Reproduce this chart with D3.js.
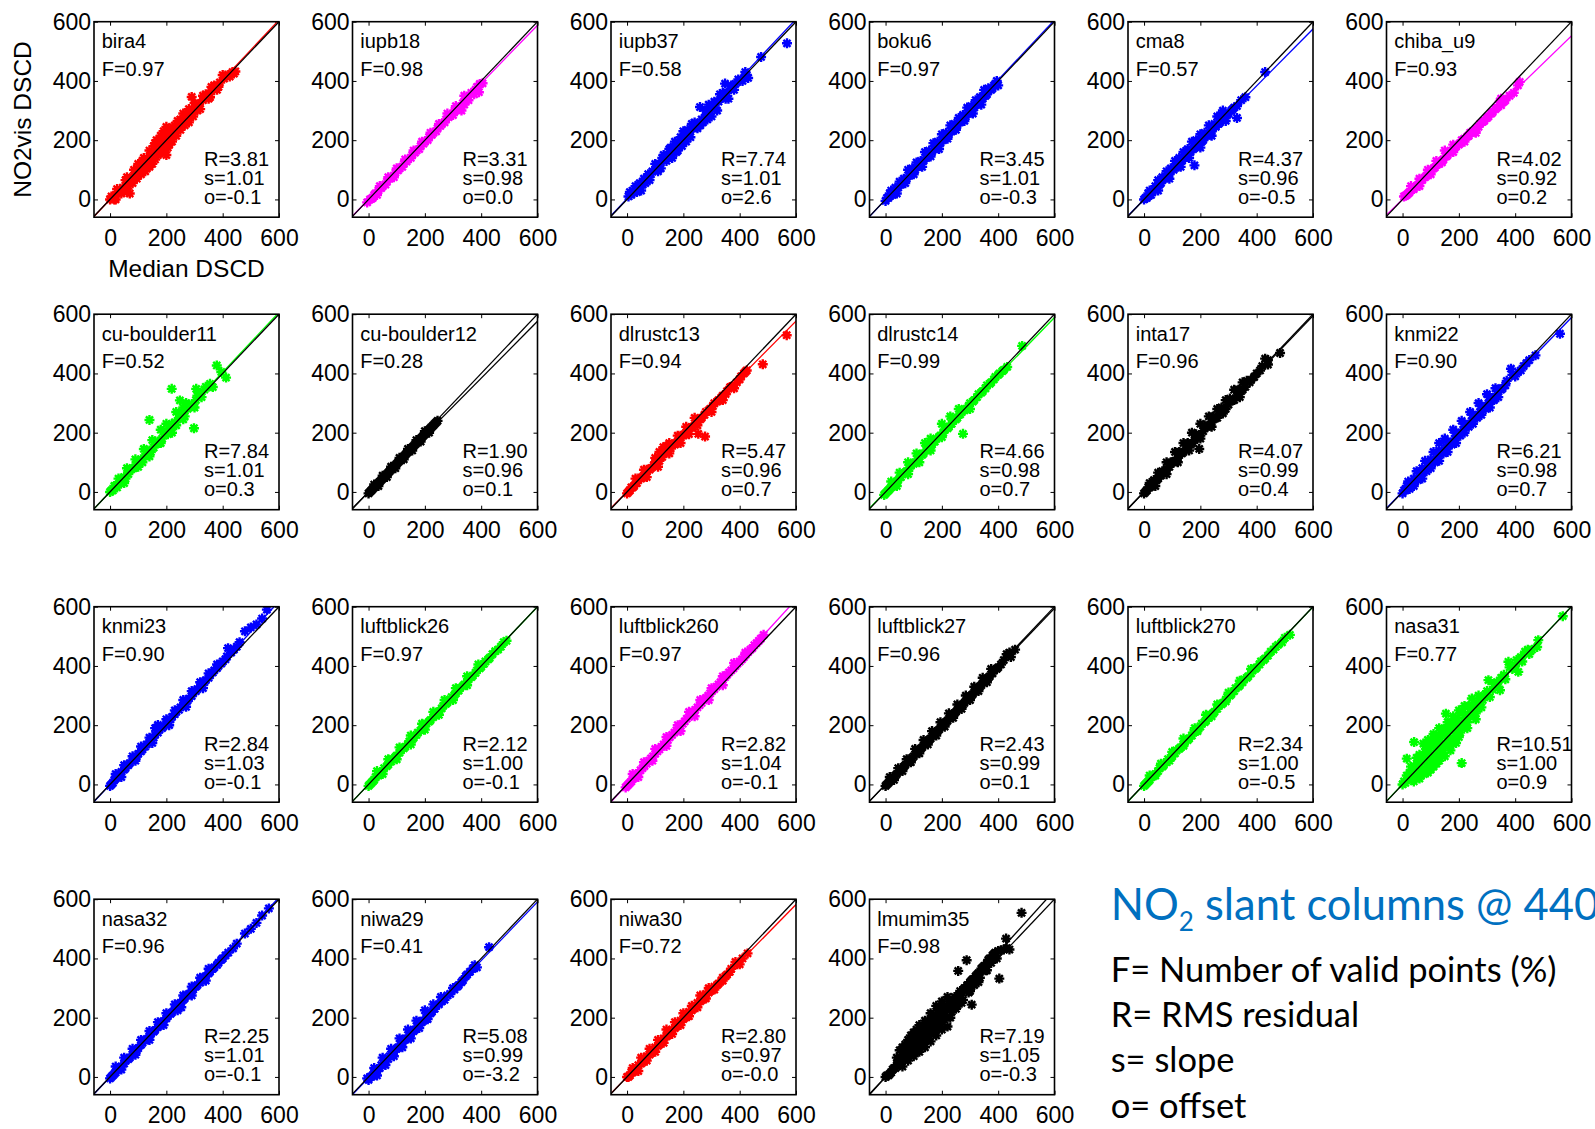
<!DOCTYPE html>
<html><head><meta charset="utf-8">
<script src="https://cdn.jsdelivr.net/npm/d3@7"></script>
<style>body{margin:0;background:#fff}svg{display:block}</style>
</head><body>
<svg id="c" width="1595" height="1129"></svg>
<script>
// ---------- DATA ----------
const panelNames = ["bira4","iupb18","iupb37","boku6","cma8","chiba_u9",
  "cu-boulder11","cu-boulder12","dlrustc13","dlrustc14","inta17","knmi22",
  "knmi23","luftblick26","luftblick260","luftblick27","luftblick270","nasa31",
  "nasa32","niwa29","niwa30","lmumim35"];
const panelColors = ["#ff0000","#ff00ff","#0000ff","#0000ff","#0000ff","#ff00ff",
  "#00ff00","#000000","#ff0000","#00ff00","#000000","#0000ff",
  "#0000ff","#00ff00","#ff00ff","#000000","#00ff00","#00ff00",
  "#0000ff","#0000ff","#ff0000","#000000"];
const fValues = [0.97,0.98,0.58,0.97,0.57,0.93, 0.52,0.28,0.94,0.99,0.96,0.90,
  0.90,0.97,0.97,0.96,0.96,0.77, 0.96,0.41,0.72,0.98];
const rValues = [3.81,3.31,7.74,3.45,4.37,4.02, 7.84,1.90,5.47,4.66,4.07,6.21,
  2.84,2.12,2.82,2.43,2.34,10.51, 2.25,5.08,2.80,7.19];
const sValues = [1.01,0.98,1.01,1.01,0.96,0.92, 1.01,0.96,0.96,0.98,0.99,0.98,
  1.03,1.00,1.04,0.99,1.00,1.00, 1.01,0.99,0.97,1.05];
const oValues = [-0.1,0.0,2.6,-0.3,-0.5,0.2, 0.3,0.1,0.7,0.7,0.4,0.7,
  -0.1,-0.1,-0.1,0.1,-0.5,0.9, -0.1,-3.2,-0, -0.3];
const tickValues = [0,200,400,600];
const xTitle = "Median DSCD";
const yTitle = "NO2vis DSCD";
const legendLines = ["F= Number of valid points (%)","R= RMS residual","s= slope","o= offset"];

const pts_bira4 = [[0,0],[10,5],[20,15],[30,25],[45,40],[60,55],[75,70],[90,85],[105,100],[120,115],[135,135],[150,150],[165,165],[180,180],[195,195],[210,210],[225,225],[240,240],[255,258],[270,272],[285,288],[300,305],[315,318],[330,335],[345,350],[360,365],[375,378],[390,395],[405,408],[420,420],[435,430],[445,432],
 [60,75],[100,120],[120,140],[140,165],[155,180],[165,200],[180,215],[190,230],[200,245],[215,240],[240,265],[260,290],[280,305],[300,325],[290,346],[330,350],[360,380],[400,420],
 [20,0],[50,25],[70,20],[80,55],[110,85],[130,105],[150,120],[170,150],[190,165],[200,150],[205,175],[220,195],[250,235],[280,260],[310,300],[350,340],[380,370],
 [5,10],[15,0],[25,35],[40,20],[55,65],[65,45],[85,100],[95,70],[115,130],[125,95],[145,150],[160,135],[175,190],[185,160],[195,215],[210,185],[230,250],[235,215],[250,270],[265,250],[275,295],[295,280],[305,320],[320,305],[340,355],[355,345],[370,385],[385,380],[410,418],[425,415],[440,425],[140,110],[160,190],[180,200],[205,230]];
const pts_iupb18 = [[-5,-10],[5,0],[15,5],[25,20],[35,30],[50,45],[65,60],[80,75],[95,90],[110,105],[125,120],[140,135],[155,150],[170,165],[185,180],[200,195],[215,210],[230,225],[245,240],[260,255],[275,270],[290,285],[305,300],[320,310],[335,325],[350,340],[365,360],[380,370],[392,362],[395,390],[405,392],
 [30,15],[60,50],[90,75],[120,110],[150,140],[180,170],[210,200],[240,230],[270,260],[300,285],[330,300],[340,320],[355,335],
 [40,45],[70,75],[100,105],[130,135],[160,165],[190,195],[220,225],[250,255],[280,290],[310,315],[340,350],
 [10,2],[20,15],[45,38],[75,70],[105,98],[135,128],[165,158],[195,188],[225,218],[255,248],[285,278],[315,305],[345,335],[375,355],[385,380]];
const pts_iupb37 = [[5,10],[15,15],[25,25],[40,35],[55,50],[70,70],[85,85],[100,100],[115,120],[130,135],[145,150],[160,165],[175,180],[190,195],[205,210],[220,225],[235,240],[250,255],[265,270],[280,285],[295,300],[310,310],[325,330],[340,345],[355,360],[370,375],[385,390],[400,400],[415,410],[425,420],[430,410],
 [10,25],[30,45],[50,30],[60,70],[80,65],[100,120],[120,105],[130,150],[150,170],[160,140],[170,195],[180,165],[200,230],[210,195],[230,255],[250,240],[259,312],[270,260],[290,320],[300,280],[330,355],[348,391],[360,340],[420,430],[476,481],[568,527],
 [20,30],[35,25],[45,55],[65,55],[75,85],[90,95],[110,95],[125,140],[140,130],[155,175],[175,160],[190,210],[195,180],[215,235],[225,210],[240,260],[260,250],[280,300],[285,270],[310,330],[320,300],[340,360],[350,340],[370,385],[380,370],[395,405],[410,400],[420,415]];
const pts_boku6 = [[0,-5],[10,5],[20,15],[30,25],[45,40],[60,55],[75,70],[90,85],[105,100],[120,115],[135,130],[150,145],[165,160],[180,175],[195,190],[210,205],[225,220],[240,235],[255,250],[270,265],[285,280],[300,295],[315,310],[330,325],[345,340],[360,355],[375,370],[385,385],[395,400],[400,385],
 [20,30],[50,60],[80,100],[110,125],[140,160],[170,190],[200,220],[230,250],[260,275],[290,310],[320,335],[350,370],
 [40,20],[70,55],[100,85],[130,110],[160,145],[190,170],[220,205],[250,235],[280,265],[310,290],[340,320],
 [5,5],[15,20],[25,15],[35,40],[55,50],[65,70],[85,80],[95,105],[115,110],[125,130],[145,140],[155,165],[175,170],[185,195],[205,200],[215,225],[235,230],[245,255],[265,260],[275,285],[295,290],[305,315],[325,320],[335,345],[355,350],[365,375],[380,375],[390,390]];
const pts_cma8 = [[0,0],[10,5],[20,15],[30,25],[45,40],[60,55],[75,70],[90,85],[105,100],[120,110],[135,130],[150,145],[165,160],[180,175],[195,190],[210,200],[225,215],[240,230],[255,245],[270,260],[285,275],[300,290],[315,305],[330,315],[345,335],[360,345],[430,430],
 [20,30],[50,65],[80,95],[110,130],[140,160],[170,195],[200,220],[230,250],[260,280],[280,300],
 [50,30],[90,70],[130,110],[160,140],[179,115],[200,175],[240,215],[290,265],[330,275],
 [5,5],[15,20],[25,15],[40,45],[55,50],[65,75],[85,80],[95,105],[115,110],[125,140],[145,140],[155,170],[175,170],[185,200],[205,195],[215,225],[235,225],[250,255],[265,255],[275,285],[295,285],[310,300],[320,310]];
const pts_chiba = [[5,10],[15,15],[25,25],[40,35],[55,50],[70,65],[85,80],[100,95],[115,108],[130,120],[145,135],[160,150],[175,165],[190,178],[205,190],[220,205],[235,215],[250,230],[263,239],[275,255],[290,265],[305,280],[320,295],[335,310],[350,318],[350,340],[365,335],[380,350],[395,360],[410,385],[416,397],
 [30,45],[60,70],[90,100],[120,130],[150,165],[180,185],[210,200],[60,45],[100,85],[140,125],[180,160],[220,195],[260,225],[240,225],
 [10,12],[20,20],[35,35],[50,45],[65,65],[80,75],[95,95],[110,105],[125,120],[140,130],[155,145],[170,160],[185,175],[200,185],[215,200],[230,212],[245,225],[270,245],[285,262],[300,275],[315,290],[330,305],[345,330],[360,330]];
const pts_cub11 = [[0,0],[10,5],[20,20],[35,30],[50,50],[65,60],[80,80],[95,90],[110,110],[125,120],[140,140],[155,150],[170,170],[185,180],[200,200],[215,215],[230,235],[245,250],[260,265],[275,280],[290,295],[305,310],[320,330],[335,345],[350,355],[365,354],[379,427],[412,386],[395,405],
 [30,45],[60,80],[90,110],[120,145],[150,175],[180,210],[200,230],[248,309],[270,300],[306,348],[219,348],[140,243],[298,215],
 [50,30],[100,85],[140,120],[180,165],[220,200],[260,245],[300,285],
 [5,5],[15,20],[25,15],[40,45],[55,45],[70,75],[85,80],[100,105],[115,100],[130,140],[145,135],[160,170],[175,165],[190,205],[205,195],[220,230],[235,225],[250,265],[265,255],[280,295],[295,290],[310,325],[325,320],[340,355],[355,365],[235,270],[260,285]];
const pts_cub12 = [[0,-5],[10,5],[20,15],[30,25],[40,35],[50,45],[60,55],[70,65],[80,75],[90,85],[100,95],[110,105],[120,115],[130,125],[140,135],[150,145],[160,155],[170,165],[180,175],[190,185],[200,195],[210,205],[220,215],[230,225],[240,235],[245,240],
 [20,25],[50,55],[80,85],[110,115],[140,145],[170,175],[200,205],[35,20],[65,50],[95,80],[125,110],[155,140],[185,170],[215,200],
 [5,0],[15,10],[25,20],[35,30],[45,40],[55,50],[65,60],[75,70],[85,80],[95,90],[105,100],[115,110],[125,120],[135,130],[145,140],[155,150],[165,160],[175,170],[185,180],[195,190],[205,200],[215,210],[225,220],[235,230]];
const pts_dlr13 = [[0,-5],[10,5],[20,15],[35,30],[50,45],[65,60],[80,75],[95,90],[110,105],[125,118],[140,132],[155,147],[170,160],[185,175],[200,190],[215,205],[230,218],[245,232],[260,245],[275,260],[290,275],[305,290],[320,305],[335,318],[350,330],[366,354],[380,350],[400,380],[415,400],[425,410],[482,431],[567,529],
 [30,45],[60,75],[100,115],[129,151],[150,165],[180,190],[210,220],[240,250],
 [70,50],[110,85],[150,130],[190,165],[220,195],[253,196],[277,187],[300,270],[340,310],[250,225],
 [5,0],[15,15],[25,20],[40,45],[55,50],[70,75],[85,80],[100,100],[115,105],[130,135],[145,140],[160,160],[175,165],[190,190],[205,195],[220,215],[235,220],[250,240],[265,250],[280,270],[295,280],[310,300],[325,310],[340,325],[355,340],[370,355],[390,370],[405,390],[420,405],[140,155],[115,135]];
const pts_dlr14 = [[-5,-10],[5,0],[15,10],[25,20],[40,35],[55,50],[70,65],[85,80],[100,95],[115,110],[130,125],[145,140],[160,155],[175,170],[190,185],[205,200],[220,215],[235,230],[250,245],[265,262],[280,275],[295,290],[310,305],[325,320],[340,335],[355,350],[370,365],[385,380],[400,395],[415,408],[432,422],[485,493],
 [20,35],[50,65],[80,100],[110,130],[140,165],[160,180],[200,230],[230,255],[260,280],
 [40,20],[80,60],[120,100],[160,140],[200,185],[275,196],[300,280],
 [0,-5],[10,5],[20,15],[30,30],[45,40],[60,60],[75,70],[90,90],[105,100],[120,120],[135,130],[150,150],[165,160],[180,180],[195,190],[210,210],[225,220],[240,240],[255,250],[270,270],[285,280],[300,300],[315,310],[330,330],[345,340],[360,360],[375,370],[390,388],[405,400],[420,412]];
const pts_inta17 = [[0,-5],[10,5],[20,15],[30,25],[45,40],[60,55],[75,70],[90,85],[105,100],[120,115],[135,130],[150,145],[165,160],[180,175],[195,190],[210,205],[225,220],[240,235],[255,250],[270,265],[285,280],[300,295],[315,310],[330,325],[345,340],[360,355],[375,370],[391,388],[412,410],[430,450],[440,430],[483,469],
 [20,30],[50,65],[80,100],[110,135],[140,165],[170,200],[200,230],[230,255],[260,280],[290,310],[320,345],[350,370],
 [40,20],[80,60],[120,100],[160,140],[196,145],[200,180],[240,220],[280,265],[340,320],
 [5,0],[15,15],[25,20],[35,40],[50,45],[65,70],[80,75],[95,100],[110,105],[125,135],[140,135],[155,165],[170,165],[185,195],[200,190],[215,225],[230,225],[245,255],[260,250],[275,285],[290,280],[305,315],[320,310],[335,345],[350,345],[365,375],[380,378],[400,400],[420,425],[440,445]];
const pts_knmi22 = [[0,-5],[10,5],[20,15],[35,30],[50,45],[65,60],[80,75],[95,90],[110,105],[125,120],[140,135],[155,150],[170,165],[185,180],[200,195],[215,210],[230,225],[245,240],[260,255],[275,270],[290,285],[305,300],[320,312],[335,330],[350,345],[365,360],[385,416],[400,390],[420,410],[440,435],[472,461],[559,534],
 [20,35],[50,70],[80,105],[110,135],[130,165],[150,180],[180,210],[210,240],[240,270],[270,300],[300,330],[330,350],
 [40,20],[70,45],[100,80],[130,105],[160,135],[190,165],[220,200],[250,230],[280,260],[310,285],[340,320],
 [5,5],[15,20],[25,10],[40,45],[55,40],[70,80],[85,70],[100,110],[115,100],[130,140],[145,130],[160,170],[175,160],[190,200],[205,190],[220,230],[235,220],[250,260],[265,250],[280,290],[295,280],[310,320],[325,310],[340,345],[355,350],[370,375],[390,395],[410,405],[430,425],[450,445]];
const pts_knmi23 = [[0,-5],[10,5],[20,20],[35,35],[50,50],[65,65],[80,80],[95,95],[110,112],[125,128],[140,143],[155,158],[170,175],[185,190],[200,205],[215,220],[230,237],[245,252],[260,268],[275,283],[290,298],[305,315],[320,330],[335,345],[350,360],[365,378],[380,393],[395,408],[410,422],[419,460],[430,445],[450,465],[479,517],[520,540],[557,590],
 [20,35],[50,65],[80,95],[110,128],[140,158],[170,201],[160,190],[200,220],[230,250],[260,285],[290,315],[320,345],[350,375],[380,405],
 [40,25],[90,80],[150,140],[210,200],[270,262],[330,325],
 [5,0],[15,15],[25,25],[40,42],[55,55],[70,72],[85,87],[100,103],[115,118],[130,135],[145,150],[160,168],[175,185],[190,196],[205,212],[220,228],[235,245],[250,260],[265,275],[280,290],[295,308],[310,322],[325,338],[340,352],[355,368],[370,385],[385,400],[400,415],[415,432],[440,455],[460,480],[500,530],[540,560]];
const pts_luft26 = [[0,-5],[10,5],[20,15],[35,30],[50,45],[65,62],[80,77],[95,92],[110,107],[125,122],[140,137],[155,152],[170,167],[185,182],[200,197],[215,212],[230,227],[245,242],[260,257],[275,272],[290,287],[305,302],[320,317],[335,332],[350,347],[365,362],[380,377],[395,392],[410,407],[425,422],[440,440],[460,455],[480,480],[490,485],
 [30,45],[70,85],[110,125],[150,165],[190,205],[230,245],[270,285],[310,325],[350,365],[390,405],
 [50,35],[100,85],[150,135],[200,185],[250,235],[300,285],[350,335],
 [5,0],[15,10],[25,25],[40,35],[55,55],[70,67],[85,85],[100,97],[115,115],[130,127],[145,145],[160,157],[175,175],[190,187],[205,205],[220,217],[235,235],[250,247],[265,265],[280,277],[295,295],[310,307],[325,325],[340,337],[355,355],[370,367],[385,385],[400,397],[415,415],[430,427],[450,450],[470,465]];
const pts_luft260 = [[-5,-10],[5,0],[15,10],[25,22],[40,38],[55,55],[70,70],[85,88],[100,103],[115,118],[130,135],[145,150],[160,167],[175,182],[190,197],[205,213],[220,228],[235,245],[250,260],[265,275],[280,292],[295,307],[310,322],[325,338],[340,353],[355,370],[370,385],[385,400],[400,415],[415,430],[430,447],[445,460],[460,477],[475,492],
 [20,35],[60,75],[100,120],[140,160],[180,200],[220,245],[260,285],[300,325],[340,365],[380,410],[420,445],
 [40,25],[90,80],[140,130],[190,180],[240,230],[290,285],[340,335],
 [0,-5],[10,5],[20,18],[33,30],[48,48],[62,62],[78,80],[92,95],[108,112],[122,127],[138,142],[152,160],[168,175],[182,190],[198,205],[212,222],[228,237],[242,252],[258,268],[272,285],[288,300],[302,315],[318,330],[332,345],[348,362],[362,378],[378,392],[392,408],[408,422],[422,438],[438,455],[452,470],[468,485],[485,505]];
const pts_luft27 = [[0,-5],[10,5],[20,15],[35,30],[50,45],[65,60],[80,75],[95,90],[110,105],[125,120],[140,135],[155,150],[170,165],[185,180],[200,195],[215,210],[230,225],[245,240],[260,255],[275,270],[290,285],[305,300],[320,315],[335,330],[350,345],[365,360],[380,375],[395,390],[410,405],[430,440],[445,430],[460,455],
 [15,25],[45,55],[75,85],[105,120],[135,150],[165,180],[195,210],[225,240],[255,270],[285,300],[315,330],[345,360],[375,390],
 [30,15],[60,45],[90,75],[120,105],[150,135],[180,165],[210,195],[240,225],[270,255],[300,285],[330,315],[360,345],
 [5,0],[15,10],[25,25],[40,35],[55,55],[70,65],[85,85],[100,95],[115,115],[130,125],[145,145],[160,155],[175,175],[190,185],[205,205],[220,215],[235,235],[250,245],[265,265],[280,275],[295,295],[310,305],[325,325],[340,335],[355,355],[370,365],[385,385],[400,395],[420,420],[440,445]];
const pts_luft270 = [[0,-5],[10,5],[20,15],[35,30],[50,45],[65,60],[80,75],[95,90],[110,105],[125,120],[140,135],[155,150],[170,165],[185,180],[200,195],[215,210],[230,225],[245,240],[260,255],[275,270],[290,285],[305,300],[320,315],[335,330],[350,345],[365,360],[380,375],[395,390],[410,405],[425,420],[440,435],[460,455],[476,471],[490,480],[518,505],
 [20,30],[60,70],[100,110],[140,155],[180,190],[220,235],[260,270],[300,310],[340,350],[380,390],
 [40,30],[90,80],[140,130],[190,180],[240,230],[290,280],
 [5,0],[15,10],[25,25],[40,35],[55,55],[70,65],[85,85],[100,95],[115,115],[130,125],[145,145],[160,155],[175,175],[190,185],[205,205],[220,215],[235,235],[250,245],[265,265],[280,275],[295,295],[310,305],[325,325],[340,335],[355,355],[370,365],[385,385],[400,395],[415,415],[430,425],[450,448],[468,465],[500,495]];
const pts_nasa31 = [[0,0],[10,5],[20,20],[30,25],[40,45],[50,35],[60,60],[70,50],[80,85],[90,70],[100,100],[110,90],[120,125],[130,110],[140,140],[150,130],[160,165],[170,150],[180,185],[190,175],[200,205],[210,190],[220,225],[230,210],[246,290],[250,250],[260,240],[275,280],[290,300],[305,352],[320,320],[335,345],[346,318],[360,370],[376,414],[390,390],[411,380],[420,430],[435,448],[450,440],[478,464],[482,487],[569,568],
 [15,87],[41,143],[74,138],[60,100],[80,130],[100,150],[120,160],[140,185],[154,239],[160,210],[180,230],[200,250],[220,265],
 [90,40],[110,60],[130,80],[150,95],[170,115],[190,140],[210,72],[40,10],[60,20],[75,35],[100,50],[120,70],[30,60],[50,90],[200,160],[230,190],[260,220],[280,260],
 [5,10],[15,30],[25,40],[35,15],[45,60],[55,75],[65,30],[70,95],[85,60],[95,115],[105,75],[115,140],[125,95],[135,165],[145,115],[155,190],[165,135],[175,210],[185,155],[195,225],[205,175],[215,245],[225,195],[235,265],[240,230],[255,275],[265,255],[270,300],[285,285],[300,315],[310,295],[325,340],[340,330],[350,360],[365,355],[380,395],[400,400],[405,420],[425,415],[445,455],[460,455],[90,150],[110,170],[130,190],[80,110],[100,130],[120,150],[140,170],[160,185],[180,205],[60,80],[40,30],[100,70],[140,105],[170,130],[200,185],[220,210],[240,245]];
const pts_nasa32 = [[0,-5],[10,5],[20,15],[35,30],[50,45],[65,60],[80,75],[95,90],[110,108],[125,123],[140,138],[155,153],[170,168],[185,183],[200,198],[215,213],[230,230],[245,245],[253,235],[260,260],[275,275],[290,290],[305,305],[320,318],[335,335],[350,350],[365,365],[380,378],[395,395],[410,410],[437,434],[479,484],[520,520],[564,569],
 [20,35],[50,65],[80,95],[110,125],[140,155],[170,185],[200,215],[230,245],[260,275],[290,305],[320,335],[350,365],
 [40,25],[90,75],[140,125],[190,175],[240,225],[290,275],[340,325],
 [5,0],[15,10],[25,25],[40,35],[55,55],[70,65],[85,85],[100,97],[115,115],[130,128],[145,145],[160,158],[175,175],[190,188],[205,205],[220,218],[235,235],[250,250],[265,265],[280,280],[295,295],[310,310],[325,325],[340,340],[355,355],[370,370],[385,385],[400,400],[420,420],[450,450],[500,500],[540,545]];
const pts_niwa29 = [[-5,-5],[5,0],[15,5],[25,20],[40,30],[55,45],[70,60],[85,75],[100,95],[115,110],[130,125],[145,140],[160,155],[175,170],[190,185],[205,200],[220,215],[235,230],[250,245],[257,270],[270,260],[290,280],[305,295],[320,310],[335,326],[350,345],[377,377],[385,370],[428,438],
 [20,30],[50,65],[80,95],[110,130],[140,160],[170,190],[200,225],[230,245],
 [30,5],[60,40],[90,70],[120,100],[150,130],[180,165],[210,195],
 [0,-10],[10,0],[20,15],[30,20],[45,40],[60,55],[75,70],[90,85],[105,100],[120,115],[135,130],[150,145],[165,160],[180,175],[195,190],[210,205],[225,220],[240,240],[260,255],[280,275],[300,300],[315,305],[330,320],[345,340],[360,355],[370,365]];
const pts_niwa30 = [[0,0],[10,5],[20,15],[35,30],[50,45],[65,60],[80,75],[95,90],[110,105],[125,120],[140,137],[155,150],[170,165],[185,180],[200,195],[215,210],[230,225],[245,240],[260,255],[275,265],[290,285],[305,295],[320,310],[335,325],[350,340],[365,355],[385,388],[400,380],[428,417],
 [20,30],[50,65],[80,95],[110,125],[140,160],[170,185],[200,215],[230,240],[260,275],[290,300],
 [40,20],[70,55],[100,85],[130,115],[160,145],[190,175],[220,205],[250,235],[280,265],[310,295],[340,325],
 [5,0],[15,15],[25,20],[40,40],[55,50],[70,70],[85,80],[100,100],[115,110],[130,130],[145,140],[160,160],[175,170],[190,190],[205,200],[220,220],[235,230],[250,250],[265,260],[280,280],[295,290],[310,305],[325,315],[340,335],[355,345],[370,365],[390,380],[410,400]];
const pts_lmumim35 = [[0,0],[10,5],[20,15],[30,30],[40,40],[50,50],[60,60],[70,75],[80,85],[90,95],[100,105],[110,115],[120,125],[130,140],[140,150],[150,160],[160,170],[170,180],[180,190],[190,200],[200,210],[210,225],[220,235],[230,245],[240,255],[250,265],[260,275],[270,285],[280,300],[290,310],[300,320],[310,330],[320,340],[330,350],[340,365],[350,375],[360,385],[370,400],[380,410],[390,420],[400,425],[420,430],[440,430],[428,467],[483,554],[404,332],[288,394],[258,358],[306,244],
 [40,65],[50,90],[60,100],[70,110],[80,125],[90,140],[100,150],[110,160],[120,175],[140,190],[160,215],[180,240],[200,255],[220,270],
 [60,35],[80,55],[100,70],[120,85],[140,100],[160,120],[180,140],[200,160],[220,170],[230,200],[250,230],[270,250],[300,290],[330,320],[360,360],[120,100],[140,125],[160,145],[180,165],[200,185],
 [5,5],[15,10],[25,25],[35,30],[45,55],[55,45],[65,80],[75,65],[85,110],[95,85],[105,130],[115,100],[125,155],[135,120],[145,175],[155,140],[165,195],[175,160],[185,215],[195,180],[205,235],[215,200],[225,255],[235,220],[245,270],[255,240],[265,290],[275,260],[285,300],[295,285],[305,325],[315,310],[325,345],[335,335],[345,370],[355,360],[365,395],[375,385],[385,415],[395,400],[410,428],[430,435],[90,120],[110,140],[130,165],[150,190],[170,210],[190,225],[100,90],[120,110],[140,135],[160,155],[180,175],[200,195],[210,240],[230,230],[250,255],[70,90],[60,75],[50,40],[80,70]];
const panelPoints = [pts_bira4,pts_iupb18,pts_iupb37,pts_boku6,pts_cma8,pts_chiba,
  pts_cub11,pts_cub12,pts_dlr13,pts_dlr14,pts_inta17,pts_knmi22,
  pts_knmi23,pts_luft26,pts_luft260,pts_luft27,pts_luft270,pts_nasa31,
  pts_nasa32,pts_niwa29,pts_niwa30,pts_lmumim35];

// ---------- DRAW ----------
const svg = d3.select("#c");
const FONT = "'Liberation Sans', Arial, Helvetica, sans-serif";
const W = 185, H = 195.5;
const x = d3.scaleLinear().domain([-57,600]).range([0,W]);
const y = d3.scaleLinear().domain([-60,600]).range([H,0]);
const mr = 5, ma = mr*0.7071;
const star = `M${-mr},0H${mr}M0,${-mr}V${mr}M${-ma},${-ma}L${ma},${ma}M${-ma},${ma}L${ma},${-ma}`;
const fmtO = v => (v < 0 || Object.is(v,-0) ? "-" : "") + Math.abs(v).toFixed(1);

panelNames.forEach((name,i)=>{
  const col = i%6, row = Math.floor(i/6);
  const g = svg.append("g").attr("transform",`translate(${94+col*258.5},${21.7+row*292.5})`);
  const cid = "clip"+i;
  g.append("clipPath").attr("id",cid).append("rect").attr("width",W).attr("height",H);
  const color = panelColors[i];

  const styleAxis = a => { a.select(".domain").remove();
    a.selectAll(".tick line").attr("stroke","#000").attr("stroke-width",1);
    a.selectAll("text").attr("font-family",FONT).attr("font-size",23).attr("fill","#000"); };
  g.append("g").attr("transform",`translate(0,${H})`)
    .call(d3.axisBottom(x).tickValues(tickValues).tickSizeInner(-4).tickSizeOuter(0).tickPadding(12)).call(styleAxis);
  g.append("g").call(d3.axisLeft(y).tickValues(tickValues).tickSizeInner(-4).tickSizeOuter(0).tickPadding(3)).call(styleAxis);
  g.append("g").call(d3.axisTop(x).tickValues(tickValues).tickSizeInner(-4).tickSizeOuter(0).tickFormat("")).call(styleAxis);
  g.append("g").attr("transform",`translate(${W},0)`)
    .call(d3.axisRight(y).tickValues(tickValues).tickSizeInner(-4).tickSizeOuter(0).tickFormat("")).call(styleAxis);

  const pg = g.append("g").attr("clip-path",`url(#${cid})`);
  pg.selectAll("path.pt").data(panelPoints[i]).join("path").attr("class","pt")
    .attr("d",star).attr("transform",d=>`translate(${x(d[0])},${y(d[1])})`)
    .attr("fill","none").attr("stroke",color).attr("stroke-width",2.4);

  const line = d3.line().x(d=>x(d[0])).y(d=>y(d[1]));
  const s = sValues[i], o = oValues[i];
  pg.append("path").attr("d",line([[-80,-80*s+o],[650,650*s+o]]))
    .attr("stroke",color).attr("stroke-width",1.3).attr("fill","none");
  pg.append("path").attr("d",line([[-80,-80],[650,650]]))
    .attr("stroke","#000").attr("stroke-width",1.3).attr("fill","none");

  g.append("rect").attr("width",W).attr("height",H).attr("fill","none")
    .attr("stroke","#000").attr("stroke-width",1.6);

  const t = (tx,ty,str) => g.append("text").attr("x",tx).attr("y",ty).text(str)
    .attr("font-family",FONT).attr("font-size",20).attr("fill","#000");
  t(7.7,26.6,name);
  t(7.7,54.3,"F="+fValues[i].toFixed(2));
  t(110,144,"R="+rValues[i].toFixed(2));
  t(110,163.3,"s="+sValues[i].toFixed(2));
  t(110,182.3,"o="+fmtO(oValues[i]));
});

svg.append("text").attr("x",186.5).attr("y",277).attr("text-anchor","middle")
  .attr("font-family",FONT).attr("font-size",24.5).text(xTitle);
svg.append("text").attr("transform","translate(31,119.5) rotate(-90)").attr("text-anchor","middle")
  .attr("font-family",FONT).attr("font-size",24.5).text(yTitle);

const LF = "Lato, 'Open Sans', sans-serif";
const title = svg.append("text").attr("x",1110.7).attr("y",920).attr("fill","#0070c0")
  .attr("font-family",LF).attr("font-size",43.5);
title.append("tspan").text("NO");
title.append("tspan").attr("font-size",26).attr("dy",10.7).text("2");
title.append("tspan").attr("dy",-10.7).text(" slant columns @ 440 nm");

const lb = [981.7,1026.7,1072,1117.7];
const lt = legendLines.map((s,k)=> svg.append("text").attr("x",1110.7).attr("y",lb[k])
  .attr("font-family",LF).attr("font-size",30).attr("fill","#000").text(s));
const L0 = lt[0].node().getComputedTextLength();
const fs = 30*446/L0;
lt.forEach(e=>e.attr("font-size",fs));
</script>
</body></html>
